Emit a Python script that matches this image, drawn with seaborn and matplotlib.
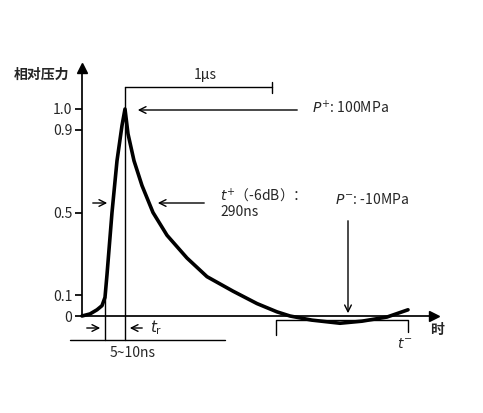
import matplotlib
matplotlib.use("Agg")
import matplotlib.pyplot as plt
import seaborn as sns
import pandas as pd

sns.set_theme(style="white")
plt.rcParams['font.family'] = ['Noto Sans CJK SC', 'DejaVu Sans']

# pulse waveform (time in arbitrary units, relative pressure)
time = [0, 8, 15, 20, 23, 25, 30, 35, 40, 43, 46, 52, 60, 71, 85, 105, 125, 151,
        175, 195, 208, 230, 258, 280, 305, 326]
pressure = [0, 0.01, 0.03, 0.05, 0.09, 0.2, 0.5, 0.75, 0.92, 1.0, 0.88, 0.75, 0.63,
            0.5, 0.39, 0.28, 0.19, 0.12, 0.06, 0.02, 0, -0.02, -0.035, -0.025,
            -0.005, 0.03]
yticks = [0, 0.1, 0.5, 0.9, 1.0]
ytick_labels = ["0", "0.1", "0.5", "0.9", "1.0"]
df = pd.DataFrame({"t": time, "p": pressure})

def X(px): return px - 82
def Y(py): return (316 - py) / 207

fig = plt.figure(figsize=(4.83, 4.13), dpi=100)
ax = fig.add_axes([0, 0, 1, 1])
ax.set_xlim(X(0), X(483))
ax.set_ylim(Y(413), Y(0))
sns.lineplot(data=df, x="t", y="p", ax=ax, color="black", lw=2.6)
ax.set_xlabel(""); ax.set_ylabel("")

for s in ["top", "right"]:
    ax.spines[s].set_visible(False)
ax.spines['left'].set_position(('data', 0))
ax.spines['bottom'].set_position(('data', 0))
ax.spines['left'].set_bounds(0, Y(72))
ax.spines['bottom'].set_bounds(0, X(430))
ax.spines['left'].set_color('black'); ax.spines['bottom'].set_color('black')
ax.set_yticks(yticks)
ax.set_yticklabels(ytick_labels, fontsize=10)
ax.set_xticks([])
ax.tick_params(axis='y', direction='out', length=5, color='black', left=True, pad=2)
ax.grid(False)
# axis arrows
ax.plot(0, Y(68), marker='^', color='black', ms=7, clip_on=False)
ax.plot(X(434), 0, marker='>', color='black', ms=7, clip_on=False)

k = dict(color='black', lw=1)
arr = dict(arrowstyle='->', color='black', lw=1)
ax.text(X(14), Y(75), "相对压力", fontsize=10, fontweight='bold', va='center')
ax.text(X(430), Y(330), "时", fontsize=10, fontweight='bold', va='center')
# 1 µs bracket
ax.plot([X(125), X(272)], [Y(87), Y(87)], **k)
ax.plot([X(272), X(272)], [Y(82), Y(93)], **k)
ax.text(X(205), Y(75), "1μs", fontsize=10, ha='center', va='center')
ax.plot([X(125), X(125)], [Y(87), Y(340)], **k)
ax.plot([X(105), X(105)], [Y(297), Y(340)], **k)
# P+
ax.annotate("", xy=(X(135), Y(110)), xytext=(X(300), Y(110)), arrowprops=arr)
ax.text(X(312), Y(108), "$P^{+}$: 100MPa", fontsize=10, va='center')
# t+
ax.annotate("", xy=(X(110), Y(203)), xytext=(X(90), Y(203)), arrowprops=arr)
ax.annotate("", xy=(X(155), Y(203)), xytext=(X(207), Y(203)), arrowprops=arr)
ax.text(X(220), Y(203), "$t^{+}$（-6dB）：\n290ns", fontsize=10, va='center', linespacing=1.1)
# P-
ax.text(X(335), Y(200), "$P^{-}$: -10MPa", fontsize=10, va='center')
ax.annotate("", xy=(X(348), Y(316)), xytext=(X(348), Y(218)), arrowprops=arr)
# tr
ax.annotate("", xy=(X(103), Y(328)), xytext=(X(84), Y(328)), arrowprops=arr)
ax.annotate("", xy=(X(127), Y(328)), xytext=(X(145), Y(328)), arrowprops=arr)
ax.text(X(150), Y(328), "$t_{\\mathrm{r}}$", fontsize=11, va='center')
ax.plot([X(70), X(225)], [Y(340), Y(340)], **k)
ax.text(X(133), Y(353), "5~10ns", fontsize=10, ha='center', va='center')
# t- bracket
ax.plot([X(276), X(276), X(408), X(408)], [Y(335), Y(320), Y(320), Y(332)], **k)
ax.text(X(405), Y(344), "$t^{-}$", fontsize=10, ha='center', va='center')

fig.savefig("out.png", dpi=100)
